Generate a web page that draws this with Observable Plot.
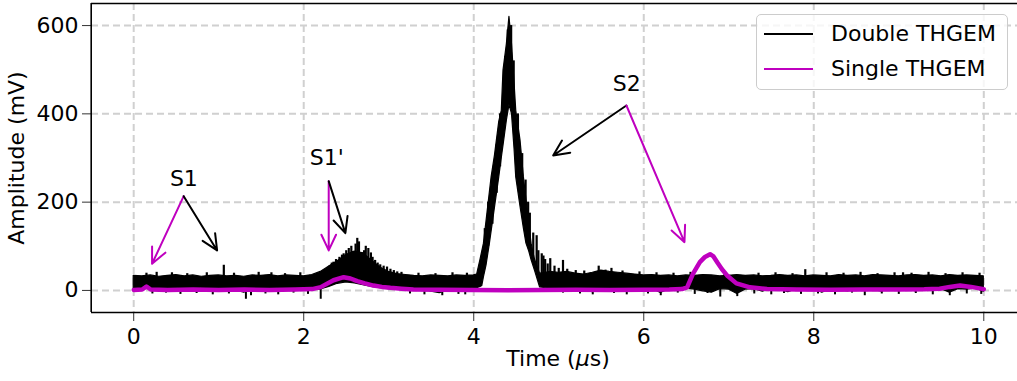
<!DOCTYPE html>
<html>
<head>
<meta charset="utf-8">
<script src="https://cdn.jsdelivr.net/npm/d3@7"></script>
<script src="https://cdn.jsdelivr.net/npm/@observablehq/plot@0.6"></script>
<style>
  body { margin: 0; background: white; }
  #wrap { position: relative; width: 1017px; height: 381px; font-family: "DejaVu Sans"; background: white; }
  #legend { position: absolute; left: 756px; top: 14px; width: 252px; height: 76px; box-sizing: border-box;
            border: 1.5px solid #cccccc; border-radius: 5px; background: rgba(255,255,255,0.8); }
  .lg-line { position: absolute; left: 7px; width: 49px; height: 2px; }
  .lg-text { position: absolute; left: 74px; font-size: 22px; line-height: 26px; color: black; white-space: nowrap; }
</style>
</head>
<body>
<div id="wrap"></div>
<script>
// ---------- data ----------
const seriesNames = ["Double THGEM", "Single THGEM"];
const seriesColors = ["black", "#bf00bf"];

const xDomain = [-0.5, 10.5];
const yDomain = [-50, 650];
const xTicks = [0, 2, 4, 6, 8, 10];
const yTicks = [0, 200, 400, 600];

// Double THGEM: noisy band read as upper / lower envelope (mV) at time (us)
const doubleTime = [
  0, 0.1, 0.2, 0.3, 0.4, 0.5, 0.6, 0.7, 0.8, 0.9, 1.0, 1.1, 1.2, 1.3, 1.4, 1.5, 1.6, 1.7, 1.8, 1.9, 2.0, 2.1,
  2.2, 2.3, 2.4, 2.5, 2.6, 2.7, 2.8, 2.9, 3.0, 3.1, 3.2, 3.3, 3.4, 3.5, 3.6, 3.7, 3.8, 3.9, 4.0,
  4.04, 4.08, 4.10, 4.12, 4.15, 4.19, 4.21, 4.25, 4.30, 4.33, 4.35, 4.39, 4.42, 4.45, 4.48, 4.50, 4.55, 4.59, 4.62, 4.65, 4.68, 4.72, 4.78, 4.85,
  4.9, 5.0, 5.1, 5.2, 5.3, 5.4, 5.5, 5.6, 5.7, 5.8, 5.9,
  6.0, 6.1, 6.2, 6.3, 6.4, 6.5, 6.6, 6.7, 6.8, 6.9,
  7.0, 7.1, 7.2, 7.3, 7.4, 7.5, 7.6, 7.7, 7.8, 7.9,
  8.0, 8.1, 8.2, 8.3, 8.4, 8.5, 8.6, 8.7, 8.8, 8.9,
  9.0, 9.1, 9.2, 9.3, 9.4, 9.5, 9.6, 9.7, 9.8, 9.9, 10.0
];
const doubleHigh = [
  33, 32, 34, 31, 33, 35, 32, 34, 31, 33, 34, 32, 33, 31, 34, 33, 35, 32, 34, 33, 32, 35,
  42, 54, 66, 80, 88, 84, 68, 52, 42, 37, 35, 33, 32, 34, 33, 32, 34, 33, 34,
  36, 70, 88, 106, 156, 223, 256, 306, 382, 407, 498, 558, 620, 558, 470, 407, 340, 256, 206, 156, 106, 70, 38, 40,
  42, 40, 42, 38, 36, 40, 45, 42, 40, 38, 36,
  34, 35, 33, 34, 32, 34, 33, 35, 34, 32,
  33, 35, 33, 34, 32, 33, 35, 33, 34, 32,
  34, 33, 32, 35, 33, 34, 32, 35, 34, 33,
  32, 34, 35, 33, 34, 32, 35, 33, 34, 33, 32
];
const doubleLow = [
  4, 3, 5, 2, 4, 5, 3, 2, 5, 4, 3, -2, 0, -5, 2, 4, 3, 5, 4, 3, 4, 2,
  2, 8, 15, 18, 16, 12, 8, 5, 3, 2, 3, 1, 3, -3, -6, 0, 2, 3, 5,
  5, 8, 10, 30, 56, 106, 133, 188, 256, 300, 328, 385, 420, 400, 320, 256, 190, 140, 106, 90, 69, 45, 7, 5,
  4, 3, 2, 4, 0, -4, 2, 3, 4, -2, 2,
  3, 4, -6, 3, 2, 4, 2, -2, -5, 3,
  2, -8, 2, 3, -3, 4, 2, -4, 3, 2,
  4, -5, 3, 2, -2, 3, 4, 2, -3, 4,
  2, 3, -2, 4, 2, 3, -5, 3, 2, 4, -3
];

// Double THGEM: upward noise spikes (top / base, mV)
const upTime = [0.15, 0.27, 0.45, 0.63, 0.86, 1.06, 1.18, 1.47, 1.62, 1.78, 1.96,
  2.25, 2.30, 2.33, 2.35, 2.38, 2.42, 2.45, 2.47, 2.50, 2.53, 2.56, 2.58, 2.61, 2.63, 2.65, 2.68, 2.71, 2.73, 2.76, 2.79, 2.81, 2.84, 2.87, 2.90, 2.94, 2.98, 3.02, 3.06, 3.10, 3.15,
  3.35, 3.55, 3.75, 3.92,
  4.13, 4.17, 4.22, 4.27, 4.31, 4.37, 4.40, 4.44, 4.47, 4.52, 4.57, 4.61, 4.64, 4.66, 4.70, 4.74, 4.76, 4.80, 4.82, 4.84, 4.87, 4.90, 4.95, 5.00, 5.05, 5.10, 5.20, 5.30, 5.47, 5.55, 5.62, 5.75, 5.95,
  6.15, 6.35, 6.55, 6.95, 7.35, 7.55, 7.75, 7.90, 8.15, 8.35, 8.55, 8.75, 8.95, 9.05, 9.15, 9.35, 9.55, 9.75, 9.95];
const upHigh = [39, 41, 40, 38, 40, 57, 39, 41, 40, 38, 40,
  45, 55, 62, 64, 70, 75, 80, 83, 90, 95, 100, 88, 105, 118, 110, 86, 90, 100, 95, 85, 75, 68, 62, 58, 55, 53, 48, 45, 42, 41,
  39, 38, 40, 39,
  140, 200, 265, 330, 400, 530, 590, 600, 520, 400, 310, 250, 200, 175, 130, 124, 90, 83, 78, 70, 60, 72, 55, 50, 68, 48, 45, 44, 55, 46, 50, 44, 42,
  40, 39, 41, 40, 39, 40, 38, 47, 40, 39, 41, 38, 40, 40, 39, 41, 38, 40, 39];
const upLow = [20, 20, 20, 20, 20, 20, 20, 20, 20, 20, 20,
  10, 15, 15, 20, 20, 20, 20, 20, 20, 20, 20, 20, 20, 20, 20, 20, 20, 20, 20, 20, 20, 20, 20, 15, 15, 15, 15, 15, 15, 15,
  20, 20, 20, 20,
  60, 100, 150, 220, 280, 400, 450, 450, 380, 300, 220, 160, 120, 100, 70, 40, 30, 20, 20, 20, 20, 20, 20, 20, 20, 20, 20, 20, 20, 20, 20, 20, 20,
  20, 20, 20, 20, 20, 20, 20, 20, 20, 20, 20, 20, 20, 20, 20, 20, 20, 20, 20];

// Double THGEM: downward noise spikes (bottom, mV)
const downTime = [0.22, 0.38, 0.55, 0.74, 0.93, 1.12, 1.32, 1.38, 1.55, 1.70, 1.88, 2.05, 2.20,
  3.25, 3.42, 3.63, 3.82, 3.90, 5.05, 5.25, 5.40, 5.65, 5.80, 6.05, 6.20, 6.40, 6.60, 6.75, 6.90,
  7.10, 7.30, 7.50, 7.65, 7.85, 8.05, 8.25, 8.45, 8.60, 8.80, 9.00, 9.20, 9.40, 9.60, 9.80, 9.97];
const downLow = [-8, -6, -9, -7, -10, -8, -20, -12, -8, -10, -6, -9, -20,
  -8, -10, -12, -9, -10, -6, -8, -10, -7, -10, -8, -12, -6, -9, -7, -15,
  -14, -8, -10, -7, -9, -8, -10, -6, -12, -8, -9, -7, -10, -12, -8, -9];

// Single THGEM trace (mV)
const singleTime = [0, 0.1, 0.15, 0.2, 0.4, 0.7, 1.0, 1.3, 1.6, 1.9,
  2.1, 2.2, 2.35, 2.47, 2.55, 2.63, 2.72, 2.82, 2.92, 3.02,
  3.15, 3.29, 3.6, 4.0, 4.4, 4.8, 5.2, 5.6, 6.0, 6.3,
  6.45, 6.51, 6.58, 6.66, 6.72, 6.78, 6.82, 6.87, 6.92, 6.98,
  7.09, 7.25, 7.45, 7.8, 8.2, 8.6, 9.0, 9.3, 9.48, 9.6,
  9.72, 9.85, 10.0];
const singleValue = [1, 2, 9, 2, 1, 2, 1, 2, 1, 2,
  3, 7.5, 23, 30, 27, 21, 16, 11, 8, 6,
  4, 2, 1.5, 1, 0.5, 1, 1.5, 1, 1.5, 2,
  3, 7, 38, 64, 76, 82, 77, 62, 48, 34,
  16, 7, 3, 2, 1.5, 2, 2, 2.5, 4, 8,
  11, 8, 3];

// Annotations (data coordinates)
const annLabel = ["S1", "S1'", "S2"];
const annX = [0.59, 2.27, 5.80];
const annY = [252, 300, 468];
const arrowSeries = ["Single THGEM", "Double THGEM", "Single THGEM", "Double THGEM", "Double THGEM", "Single THGEM"];
const arrowX1 = [0.588, 0.588, 2.294, 2.294, 5.796, 5.796];
const arrowY1 = [213.5, 213.5, 247.5, 247.5, 418.9, 418.9];
const arrowX2 = [0.216, 0.981, 2.294, 2.49, 4.934, 6.479];
const arrowY2 = [60.4, 90.6, 90.6, 129.7, 305.7, 109.4];

// ---------- tables ----------
const bandRows = doubleTime.map((t, i) => ({t, hi: doubleHigh[i], lo: doubleLow[i]}));
const upRows = upTime.map((t, i) => ({t, hi: upHigh[i], lo: upLow[i]}));
const downRows = downTime.map((t, i) => ({t, lo: downLow[i]}));
const singleRows = singleTime.map((t, i) => ({t, v: singleValue[i]}));
const annRows = annLabel.map((s, i) => ({s, x: annX[i], y: annY[i]}));
const arrowRows = arrowSeries.map((s, i) => ({s, x1: arrowX1[i], y1: arrowY1[i], x2: arrowX2[i], y2: arrowY2[i]}));

const gridStyle = {stroke: "#d0d0d0", strokeOpacity: 1, strokeWidth: 2, strokeDasharray: "7,4"};

const svg = Plot.plot({
  width: 1017,
  height: 381,
  marginLeft: 91,
  marginRight: 0,
  marginTop: 3,
  marginBottom: 69,
  style: {fontFamily: "DejaVu Sans", fontSize: "22px", background: "white", color: "black", overflow: "visible"},
  x: {domain: xDomain, range: [90.7, 1025.8]},
  y: {domain: yDomain},
  color: {domain: seriesNames, range: seriesColors},
  marks: [
    Plot.gridX(xTicks, gridStyle),
    Plot.gridY(yTicks, gridStyle),
    Plot.areaY(bandRows, {x: "t", y1: "lo", y2: "hi", fill: seriesColors[0], stroke: seriesColors[0], strokeWidth: 1.2}),
    Plot.ruleX(upRows, {x: "t", y1: "lo", y2: "hi", stroke: seriesColors[0], strokeWidth: 2.2}),
    Plot.ruleX(downRows, {x: "t", y1: "lo", y2: 8, stroke: seriesColors[0], strokeWidth: 2}),
    Plot.line(singleRows, {x: "t", y: "v", stroke: seriesColors[1], strokeWidth: 4.5}),
    Plot.arrow(arrowRows, {x1: "x1", y1: "y1", x2: "x2", y2: "y2", stroke: "s", strokeWidth: 2, headLength: 13, headAngle: 50}),
    Plot.text(annRows, {x: "x", y: "y", text: "s", fontSize: 22, fill: "black"}),
    Plot.axisX(xTicks, {tickSize: 9, tickPadding: 7, fontSize: 22, label: null, stroke: "#333"}),
    Plot.axisY(yTicks, {tickSize: 9, tickPadding: 4, fontSize: 22, label: null, stroke: "#333"}),
    Plot.ruleX([xDomain[0]], {stroke: "black", strokeWidth: 1.6}),
    Plot.ruleY(yDomain, {stroke: "black", strokeWidth: 1.6})
  ]
});

// axis titles
const s = d3.select(svg);
s.append("text")
  .attr("transform", "translate(24,158) rotate(-90)")
  .attr("text-anchor", "middle")
  .attr("font-size", 22)
  .attr("fill", "black")
  .text("Amplitude (mV)");
const xl = s.append("text")
  .attr("x", 558).attr("y", 366)
  .attr("text-anchor", "middle")
  .attr("font-size", 22)
  .attr("fill", "black");
xl.append("tspan").text("Time (");
xl.append("tspan").attr("font-style", "italic").text("\u03bc");
xl.append("tspan").text("s)");

const wrap = document.getElementById("wrap");
wrap.appendChild(svg);

// legend
const legend = document.createElement("div");
legend.id = "legend";
const centers = [19, 54];
seriesNames.forEach((name, i) => {
  const line = document.createElement("div");
  line.className = "lg-line";
  line.style.top = (centers[i] - 1) + "px";
  line.style.background = seriesColors[i];
  legend.appendChild(line);
  const t = document.createElement("div");
  t.className = "lg-text";
  t.style.top = (centers[i] - 13) + "px";
  t.textContent = name;
  legend.appendChild(t);
});
wrap.appendChild(legend);
</script>
</body>
</html>
